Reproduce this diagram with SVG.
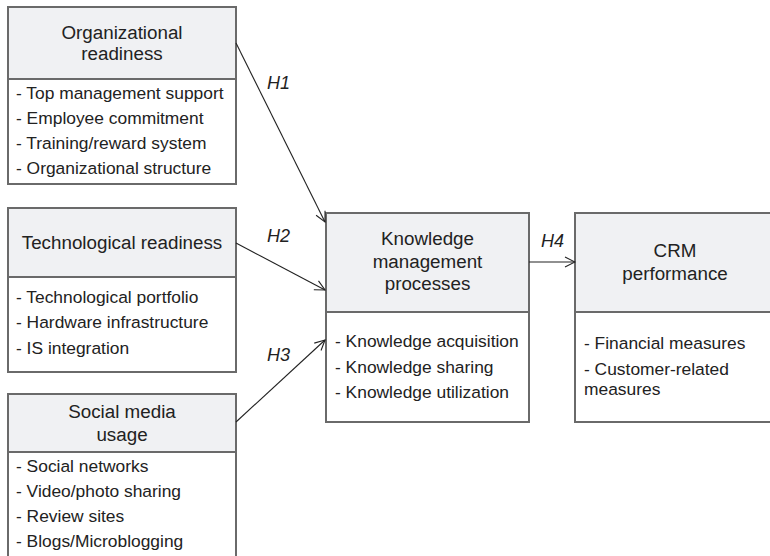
<svg xmlns="http://www.w3.org/2000/svg" width="770" height="556" viewBox="0 0 770 556">
<defs>
<marker id="arr" viewBox="0 0 12 12" refX="11" refY="6" markerWidth="12" markerHeight="12" markerUnits="userSpaceOnUse" orient="auto">
<path d="M1,1 L11,6 L1,11" fill="none" stroke="#222" stroke-width="1.1"/>
</marker>
<style>
.box{fill:#fff;stroke:#6a6a6a;stroke-width:2}
.hdr{fill:#f0f1f3;stroke:#6a6a6a;stroke-width:2}
.ht{font-family:"Liberation Sans",Arial,sans-serif;font-size:18.8px;fill:#222;text-anchor:middle}
.bt{font-family:"Liberation Sans",Arial,sans-serif;font-size:17.4px;fill:#222}
.lbl{font-family:"Liberation Sans",Arial,sans-serif;font-size:18px;font-style:italic;fill:#222}
.c{fill:none;stroke:#222;stroke-width:1.1;marker-end:url(#arr)}
</style>
</defs>
<rect width="770" height="556" fill="#fff"/>
<g id="org">
<rect class="box" x="8" y="7" width="228" height="177"/>
<rect class="hdr" x="8" y="7" width="228" height="72"/>
<text class="ht" x="122" y="39">Organizational</text>
<text class="ht" x="122" y="60">readiness</text>
<text class="bt" x="16" y="99">- Top management support</text>
<text class="bt" x="16" y="124">- Employee commitment</text>
<text class="bt" x="16" y="149">- Training/reward system</text>
<text class="bt" x="16" y="174">- Organizational structure</text>
</g>
<g id="tech">
<rect class="box" x="8" y="208" width="228" height="164"/>
<rect class="hdr" x="8" y="208" width="228" height="69"/>
<text class="ht" x="122" y="249">Technological readiness</text>
<text class="bt" x="16" y="303">- Technological portfolio</text>
<text class="bt" x="16" y="328">- Hardware infrastructure</text>
<text class="bt" x="16" y="354">- IS integration</text>
</g>
<g id="social">
<rect class="box" x="8" y="394" width="228" height="170"/>
<rect class="hdr" x="8" y="394" width="228" height="58"/>
<text class="ht" x="122" y="418">Social media</text>
<text class="ht" x="122" y="441">usage</text>
<text class="bt" x="16" y="472">- Social networks</text>
<text class="bt" x="16" y="497">- Video/photo sharing</text>
<text class="bt" x="16" y="522">- Review sites</text>
<text class="bt" x="16" y="547">- Blogs/Microblogging</text>
</g>
<g id="km">
<rect class="box" x="326" y="213" width="203" height="209"/>
<rect class="hdr" x="326" y="213" width="203" height="99"/>
<text class="ht" x="427.5" y="245">Knowledge</text>
<text class="ht" x="427.5" y="268">management</text>
<text class="ht" x="427.5" y="290">processes</text>
<text class="bt" x="335" y="347">- Knowledge acquisition</text>
<text class="bt" x="335" y="373">- Knowledge sharing</text>
<text class="bt" x="335" y="398">- Knowledge utilization</text>
</g>
<g id="crm">
<rect class="box" x="575" y="213" width="205" height="209"/>
<rect class="hdr" x="575" y="213" width="205" height="99"/>
<text class="ht" x="675" y="257">CRM</text>
<text class="ht" x="675" y="280">performance</text>
<text class="bt" x="584" y="349">- Financial measures</text>
<text class="bt" x="584" y="375">- Customer-related</text>
<text class="bt" x="584" y="395">measures</text>
</g>
<g id="connectors">
<line class="c" x1="236" y1="43" x2="325" y2="222"/>
<line class="c" x1="236" y1="243" x2="325" y2="290"/>
<line class="c" x1="236" y1="422" x2="325" y2="340"/>
<line class="c" x1="529" y1="262" x2="575" y2="262"/>
<text class="lbl" x="267" y="89">H1</text>
<text class="lbl" x="267" y="242">H2</text>
<text class="lbl" x="267" y="361">H3</text>
<text class="lbl" x="541" y="247">H4</text>
</g>
</svg>
